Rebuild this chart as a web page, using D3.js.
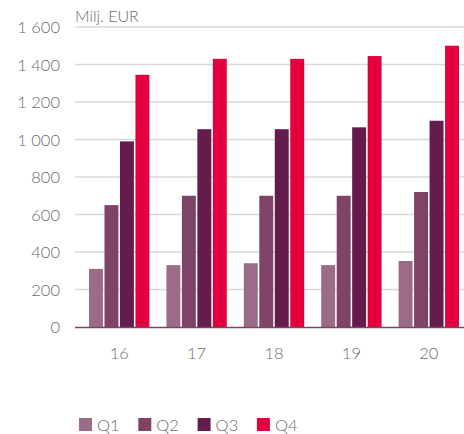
<!DOCTYPE html>
<html>
<head>
<meta charset="utf-8">
<script src="https://cdn.jsdelivr.net/npm/d3@7"></script>
<style>
  body { margin: 0; background: #fff; }
  svg text { font-family: Lato, "Open Sans", sans-serif; font-weight: 300; fill: #6b6b6b; }
</style>
</head>
<body>
<script>
// data
var years = ["16", "17", "18", "19", "20"];
var quarters = ["Q1", "Q2", "Q3", "Q4"];
var q1 = [310, 330, 340, 330, 352];
var q2 = [650, 700, 700, 700, 720];
var q3 = [990, 1055, 1055, 1065, 1100];
var q4 = [1345, 1430, 1430, 1445, 1500];
var yTicks = [0, 200, 400, 600, 800, 1000, 1200, 1400, 1600];
var colors = ["#9b6b87", "#7e4367", "#641c4c", "#e4003d"];

var series = [q1, q2, q3, q4];

var svg = d3.select("body").append("svg")
  .attr("width", 464)
  .attr("height", 434);

var left = 75, right = 464;

var y = d3.scaleLinear().domain([0, 1600]).range([327, 27]);

var x0 = d3.scaleBand().domain(years)
  .range([80.5, 467.5])
  .paddingInner(0.22)
  .paddingOuter(0.11);

var x1 = d3.scaleBand().domain(quarters)
  .range([0, x0.bandwidth()])
  .paddingInner(0.1);

// gridlines
svg.append("g")
  .selectAll("line")
  .data(yTicks.filter(d => d > 0))
  .enter()
  .append("line")
  .attr("x1", left)
  .attr("x2", right)
  .attr("y1", d => y(d))
  .attr("y2", d => y(d))
  .attr("stroke", "#d9d9d9")
  .attr("stroke-width", 1.5);

// y axis labels
var fmt = d => d3.format(",")(d).replace(",", " ");
var yAxis = svg.append("g")
  .attr("transform", "translate(60,0)")
  .call(d3.axisLeft(y).tickValues(yTicks).tickFormat(fmt).tickSize(0).tickPadding(0));
yAxis.select(".domain").remove();
yAxis.selectAll("text")
  .style("font-size", "16.5px")
  .attr("fill", "#6b6b6b")
  .attr("dy", "0.36em");

svg.append("text")
  .attr("x", left)
  .attr("y", 22)
  .style("font-size", "16px")
  .text("Milj. EUR");

// bars
var groups = svg.append("g")
  .selectAll("g")
  .data(years)
  .enter()
  .append("g")
  .attr("transform", d => "translate(" + x0(d) + ",0)");

groups.selectAll("rect")
  .data((d, i) => quarters.map((q, k) => ({ q: q, v: series[k][i], k: k })))
  .enter()
  .append("rect")
  .attr("x", d => x1(d.q))
  .attr("width", x1.bandwidth())
  .attr("y", d => y(d.v))
  .attr("height", d => y(0) - y(d.v))
  .attr("fill", d => colors[d.k]);

// baseline
svg.append("line")
  .attr("x1", left)
  .attr("x2", right)
  .attr("y1", y(0) + 0.5)
  .attr("y2", y(0) + 0.5)
  .attr("stroke", "#7e4367")
  .attr("stroke-width", 1.5);

// x axis labels
var xAxis = svg.append("g")
  .attr("transform", "translate(0," + y(0) + ")")
  .call(d3.axisBottom(x0).tickSize(0).tickPadding(20));
xAxis.select(".domain").remove();
xAxis.selectAll("text")
  .style("font-size", "16.5px")
  .attr("fill", "#6b6b6b");

// legend
var legend = svg.append("g")
  .selectAll("g")
  .data(quarters)
  .enter()
  .append("g")
  .attr("transform", (d, i) => "translate(" + (79 + i * 59.3) + ",418)");

legend.append("rect")
  .attr("width", 13)
  .attr("height", 13)
  .attr("fill", (d, i) => colors[i]);

legend.append("text")
  .attr("x", 18)
  .attr("y", 12.5)
  .style("font-size", "16.5px")
  .text(d => d);
</script>
</body>
</html>
